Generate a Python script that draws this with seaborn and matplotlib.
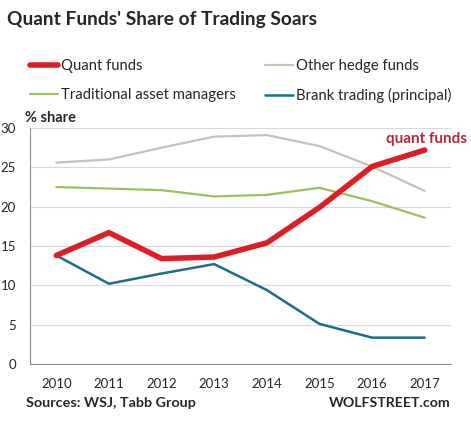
import pandas as pd
import matplotlib
matplotlib.use("Agg")
import matplotlib.pyplot as plt
import seaborn as sns
from matplotlib.lines import Line2D

years = ['2010', '2011', '2012', '2013', '2014', '2015', '2016', '2017']
quant = [13.8, 16.7, 13.4, 13.6, 15.4, 19.9, 25.1, 27.2]
other_hedge = [25.6, 26.0, 27.5, 28.9, 29.1, 27.7, 25.1, 22.0]
traditional = [22.5, 22.3, 22.1, 21.3, 21.5, 22.4, 20.7, 18.6]
bank = [13.8, 10.2, 11.5, 12.7, 9.4, 5.1, 3.35, 3.35]

series_names = ['Quant funds', 'Other hedge funds', 'Traditional asset managers', 'Brank trading (principal)']
colors = ['#dc1f26', '#c8c2b6', '#9dbf5f', '#1f6b8a']
widths = [4.0, 1.6, 1.6, 1.8]

sns.set_style('white')
plt.rcParams['font.family'] = ['Lato', 'DejaVu Sans']

rows = []
for name, vals in zip(series_names, [quant, other_hedge, traditional, bank]):
    for y, v in zip(years, vals):
        rows.append({'year': y, 'share': v, 'series': name})
df = pd.DataFrame(rows)

fig = plt.figure(figsize=(4.71, 4.22), dpi=100)
ax = fig.add_axes([30 / 471, 58 / 422, 421 / 471, 236 / 422])

# draw the thin lines first, quant on top
for name, c, w in list(zip(series_names, colors, widths))[::-1]:
    sub = df[df['series'] == name]
    sns.lineplot(data=sub, x='year', y='share', color=c, lw=w, ax=ax, sort=False)

ax.set_xlim(-0.5, 7.5)
ax.set_ylim(0, 30)
ax.set_yticks([0, 5, 10, 15, 20, 25, 30])
ax.set_xlabel('')
ax.set_ylabel('')
ax.grid(axis='y', color='#d9d9d9', lw=0.8)
ax.set_axisbelow(True)
for s in ['top', 'right']:
    ax.spines[s].set_visible(False)
for s in ['left', 'bottom']:
    ax.spines[s].set_color('#8c8c8c')
    ax.spines[s].set_linewidth(0.8)

# Excel-style ticks between categories
ax.set_xticks([i + 0.5 for i in range(-1, 8)], minor=True)
ax.tick_params(axis='x', which='minor', length=4, color='#8c8c8c', direction='out')
ax.tick_params(axis='x', which='major', length=0, labelsize=9.5, pad=10)
ax.tick_params(axis='y', length=4, color='#8c8c8c', labelsize=9.5, pad=6)

fig.text(7 / 471, 1 - 20 / 422, "Quant Funds' Share of Trading Soars", fontsize=13.8,
         fontweight='bold', va='center', ha='left')
fig.text(25 / 471, 1 - 118 / 422, '% share', fontsize=10.5, fontweight='bold', va='center', ha='left')
fig.text(427 / 471, 1 - 139 / 422, 'quant funds', fontsize=11, fontweight='bold', color='#b8283a',
         va='center', ha='center')
fig.text(26 / 471, 1 - 403 / 422, 'Sources: WSJ, Tabb Group', fontsize=10.4, fontweight='bold',
         va='center', ha='left')
fig.text(451 / 471, 1 - 403 / 422, 'WOLFSTREET.com', fontsize=10.2, fontweight='bold',
         va='center', ha='right')

handles = [Line2D([], [], color=c, lw=w) for c, w in zip(colors, widths)]
order = [0, 2, 1, 3]
fig.legend([handles[i] for i in order], [series_names[i] for i in order], ncol=2,
           loc='upper left', bbox_to_anchor=(30 / 471, 1 - 59 / 422), frameon=False,
           fontsize=10.7, handlelength=1.9, handletextpad=0.2, columnspacing=1.95,
           labelspacing=1.0, borderaxespad=0, borderpad=0)

fig.savefig('out.png', dpi=100)
